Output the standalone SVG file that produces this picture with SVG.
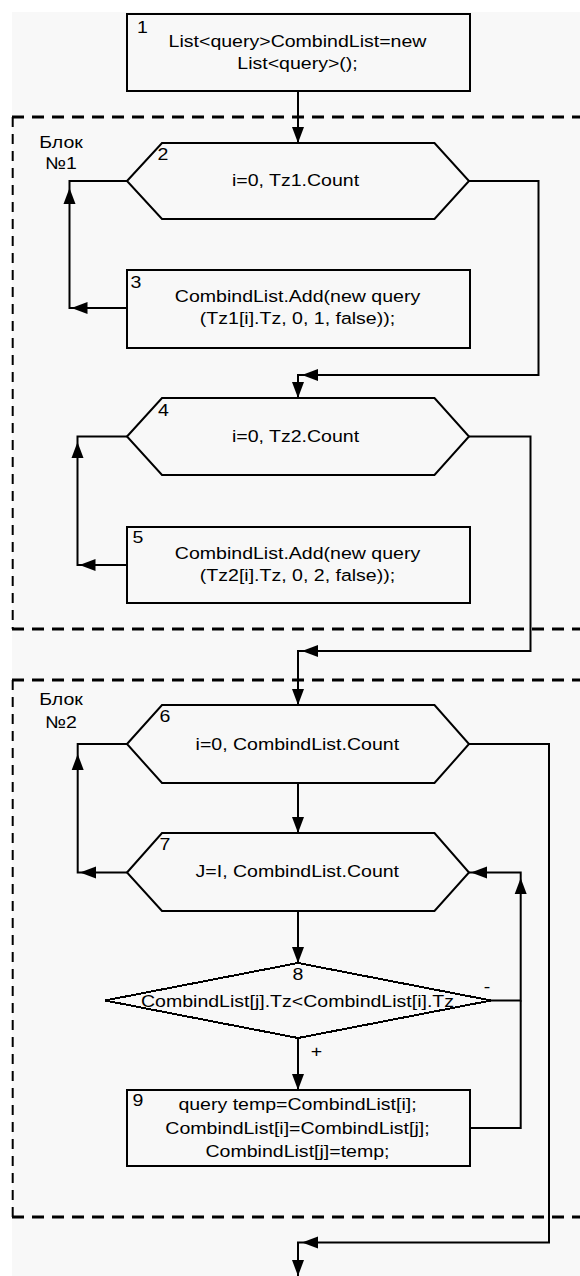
<svg xmlns="http://www.w3.org/2000/svg" xmlns:xlink="http://www.w3.org/1999/xlink" width="580" height="1276" viewBox="0 0 580 1276">
  <defs>
    <style>
      .bg{fill:#f8f8f8}
      .shape{fill:none;stroke:#000;stroke-width:2}
      .dia{fill:none;stroke:#000;stroke-width:2;shape-rendering:crispEdges}
      .conn{fill:none;stroke:#000;stroke-width:2}
      .dh{fill:none;stroke:#000;stroke-width:3;stroke-dasharray:12 8}
      .dv{fill:none;stroke:#000;stroke-width:2;stroke-dasharray:10 7}
      text{font-family:"Liberation Sans",Arial,sans-serif;font-size:17px;fill:#000}
      .c{text-anchor:middle}
      .arrow{fill:#000}
    </style>
    <!-- arrowhead pointing along +x, tip at origin -->
    <path id="ah" class="arrow" d="M0,0 L-16,-6 L-16,6 Z"/>
  </defs>

  <rect width="580" height="1276" fill="#fff"/>
  <rect class="bg" x="12" y="12" width="568" height="1264"/>

  <!-- dashed block frames -->
  <g id="block1">
    <line class="dh" x1="12" y1="117" x2="580" y2="117"/>
    <line class="dv" x1="12.7" y1="117" x2="12.7" y2="629"/>
    <line class="dh" x1="12" y1="629" x2="580" y2="629"/>
    <text class="c" transform="matrix(1.15 0 0 1 61 148)">Блок</text>
    <text class="c" transform="matrix(1.15 0 0 1 61 169)">№1</text>
  </g>
  <g id="block2">
    <line class="dh" x1="12" y1="680" x2="580" y2="680"/>
    <line class="dv" x1="12.7" y1="680" x2="12.7" y2="1217"/>
    <line class="dh" x1="12" y1="1217" x2="580" y2="1217"/>
    <text class="c" transform="matrix(1.15 0 0 1 61 705)">Блок</text>
    <text class="c" transform="matrix(1.15 0 0 1 61 728)">№2</text>
  </g>

  <!-- connectors -->
  <g id="connectors">
    <path class="conn" d="M298,91 V143"/>
    <use xlink:href="#ah" transform="translate(298,143) rotate(90)"/>

    <path class="conn" d="M127,308 H69.5 V181 H127"/>
    <use xlink:href="#ah" transform="translate(71.5,308) rotate(180)"/>
    <use xlink:href="#ah" transform="translate(69.5,188) rotate(-90)"/>

    <path class="conn" d="M469,181 H538.5 V375 H298 V398"/>
    <use xlink:href="#ah" transform="translate(302,375) rotate(180)"/>
    <use xlink:href="#ah" transform="translate(298,398) rotate(90)"/>

    <path class="conn" d="M127,565 H77.5 V436.5 H127"/>
    <use xlink:href="#ah" transform="translate(79.5,565) rotate(180)"/>
    <use xlink:href="#ah" transform="translate(77.5,442) rotate(-90)"/>

    <path class="conn" d="M469,436.5 H530.5 V651 H298 V705"/>
    <use xlink:href="#ah" transform="translate(302,651) rotate(180)"/>
    <use xlink:href="#ah" transform="translate(298,705) rotate(90)"/>

    <path class="conn" d="M298,783 V833"/>
    <use xlink:href="#ah" transform="translate(298,833) rotate(90)"/>

    <path class="conn" d="M127,872.5 H77.7 V744 H127"/>
    <use xlink:href="#ah" transform="translate(80,872.5) rotate(180)"/>
    <use xlink:href="#ah" transform="translate(77.7,754) rotate(-90)"/>

    <path class="conn" d="M469,744 H549 V1242.5 H298 V1276"/>
    <use xlink:href="#ah" transform="translate(302,1242.5) rotate(180)"/>
    <use xlink:href="#ah" transform="translate(298,1276) rotate(90)"/>

    <path class="conn" d="M298,911 V963"/>
    <use xlink:href="#ah" transform="translate(298,963) rotate(90)"/>

    <path class="conn" d="M298,1038 V1090"/>
    <use xlink:href="#ah" transform="translate(298,1090) rotate(90)"/>

    <path class="conn" d="M491,1000.5 H520.7 V872.5 H469"/>
    <use xlink:href="#ah" transform="translate(520.7,878) rotate(-90)"/>
    <use xlink:href="#ah" transform="translate(471,872.5) rotate(180)"/>
    <path class="conn" d="M470,1128 H520.7 V1000.5"/>

    <text class="c" transform="matrix(1.15 0 0 1 487 991.5)">-</text>
    <text class="c" transform="matrix(1.15 0 0 1 316.5 1057)">+</text>
  </g>

  <!-- nodes -->
  <g id="node1">
    <rect class="shape" x="127" y="14" width="343" height="77"/>
    <text transform="matrix(1.15 0 0 1 137 33)">1</text>
    <text class="c" transform="matrix(1.15 0 0 1 297.5 47)">List&lt;query&gt;CombindList=new</text>
    <text class="c" transform="matrix(1.15 0 0 1 297.5 69)">List&lt;query&gt;();</text>
  </g>

  <g id="node2">
    <polygon class="shape" points="127,181 162,143 434.5,143 469,181 434.5,219 162,219"/>
    <text transform="matrix(1.15 0 0 1 157.5 160)">2</text>
    <text class="c" transform="matrix(1.15 0 0 1 295.5 186)">i=0, Tz1.Count</text>
  </g>

  <g id="node3">
    <rect class="shape" x="127" y="270" width="343" height="78"/>
    <text transform="matrix(1.15 0 0 1 130.5 288)">3</text>
    <text class="c" transform="matrix(1.15 0 0 1 297.5 302)">CombindList.Add(new query</text>
    <text class="c" transform="matrix(1.15 0 0 1 297.5 324)">(Tz1[i].Tz, 0, 1, false));</text>
  </g>

  <g id="node4">
    <polygon class="shape" points="127,436.5 162,398 434.5,398 469,436.5 434.5,475 162,475"/>
    <text transform="matrix(1.15 0 0 1 158 416)">4</text>
    <text class="c" transform="matrix(1.15 0 0 1 295.5 442)">i=0, Tz2.Count</text>
  </g>

  <g id="node5">
    <rect class="shape" x="127" y="527" width="343" height="76"/>
    <text transform="matrix(1.15 0 0 1 132.5 543)">5</text>
    <text class="c" transform="matrix(1.15 0 0 1 297.5 559)">CombindList.Add(new query</text>
    <text class="c" transform="matrix(1.15 0 0 1 297.5 581)">(Tz2[i].Tz, 0, 2, false));</text>
  </g>

  <g id="node6">
    <polygon class="shape" points="127,744 162,705 434.5,705 469,744 434.5,783 162,783"/>
    <text transform="matrix(1.15 0 0 1 159.5 722)">6</text>
    <text class="c" transform="matrix(1.15 0 0 1 297.3 750)">i=0, CombindList.Count</text>
  </g>

  <g id="node7">
    <polygon class="shape" points="127,872.5 162,833 434.5,833 469,872.5 434.5,911 162,911"/>
    <text transform="matrix(1.15 0 0 1 159.5 850)">7</text>
    <text class="c" transform="matrix(1.15 0 0 1 297.3 877)">J=I, CombindList.Count</text>
  </g>

  <g id="node8">
    <polygon class="dia" points="298,963 491,1000.5 298,1038 105,1000.5"/>
    <text class="c" transform="matrix(1.15 0 0 1 298 980)">8</text>
    <text class="c" transform="matrix(1.15 0 0 1 297.5 1006.5)">CombindList[j].Tz&lt;CombindList[i].Tz</text>
  </g>

  <g id="node9">
    <rect class="shape" x="127" y="1090" width="343" height="76"/>
    <text transform="matrix(1.15 0 0 1 132.5 1106)">9</text>
    <text class="c" transform="matrix(1.15 0 0 1 297.5 1110)">query temp=CombindList[i];</text>
    <text class="c" transform="matrix(1.15 0 0 1 297.5 1133.5)">CombindList[i]=CombindList[j];</text>
    <text class="c" transform="matrix(1.15 0 0 1 297.5 1157)">CombindList[j]=temp;</text>
  </g>
</svg>
